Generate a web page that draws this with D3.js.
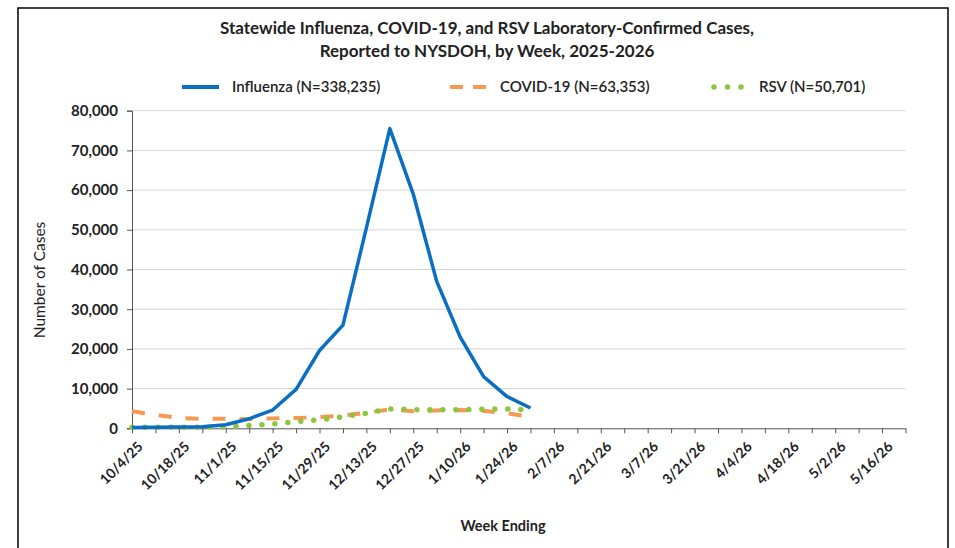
<!DOCTYPE html>
<html>
<head>
<meta charset="utf-8">
<title>Statewide Influenza, COVID-19, and RSV</title>
<script src="https://d3js.org/d3.v7.min.js"></script>
<style>
  body { margin: 0; background: #fff; }
  text { font-family: Lato, "Open Sans", sans-serif; fill: #222; }
</style>
</head>
<body>
<div id="chart"></div>
<script>
// week ending categories
const weeks = ["10/4/25","10/11/25","10/18/25","10/25/25","11/1/25","11/8/25","11/15/25","11/22/25",
  "11/29/25","12/6/25","12/13/25","12/20/25","12/27/25","1/3/26","1/10/26","1/17/26","1/24/26","1/31/26",
  "2/7/26","2/14/26","2/21/26","2/28/26","3/7/26","3/14/26","3/21/26","3/28/26","4/4/26","4/11/26",
  "4/18/26","4/25/26","5/2/26","5/9/26","5/16/26","5/23/26"];

// weekly case counts
const influenza = [200, 250, 300, 400, 900, 2400, 4600, 9800, 19600, 26000, 50500, 75500, 59000, 37000, 23000, 13000, 8000, 5100];
const covid = [4300, 3400, 2600, 2400, 2400, 2300, 2500, 2600, 2800, 3200, 3900, 4800, 4300, 4500, 4600, 4400, 3800, 2900];
const rsv = [250, 250, 250, 300, 350, 700, 1100, 1700, 2100, 2900, 3800, 4900, 4700, 4700, 4700, 4800, 4900, 4600];

const yTicks = [0, 10000, 20000, 30000, 40000, 50000, 60000, 70000, 80000];

const seriesNames = ["Influenza (N=338,235)", "COVID-19 (N=63,353)", "RSV (N=50,701)"];

const W = 955, H = 548;
const svg = d3.select("#chart").append("svg")
    .attr("width", W).attr("height", H);

// outer frame
svg.append("rect")
    .attr("x", 18).attr("y", 8)
    .attr("width", 930).attr("height", 570)
    .attr("fill", "none").attr("stroke", "#000").attr("stroke-width", 1.5);

const x = d3.scalePoint().domain(weeks).range([132, 905.5]);
const y = d3.scaleLinear().domain([0, 80000]).range([428.3, 110.7]);

// gridlines
svg.append("g").selectAll("line")
    .data(yTicks.slice(1))
    .enter().append("line")
    .attr("x1", 132).attr("x2", 905.5)
    .attr("y1", d => y(d)).attr("y2", d => y(d))
    .attr("stroke", "#d4d4d4").attr("stroke-width", 1);

// y axis
const yAxis = svg.append("g")
    .attr("transform", "translate(132,0)")
    .call(d3.axisLeft(y).tickValues(yTicks).tickSize(5).tickPadding(9).tickFormat(d3.format(",")));
yAxis.selectAll("text")
    .attr("font-size", "15px").attr("font-weight", "bold")
    .style("font-family", "Lato, sans-serif").attr("fill", "#222");
yAxis.selectAll("line, path").attr("stroke", "#555");

// x axis
const xAxis = svg.append("g")
    .attr("transform", "translate(0," + y(0) + ")")
    .call(d3.axisBottom(x).tickSize(5).tickSizeOuter(0)
        .tickFormat((d, i) => i % 2 === 0 ? d : ""));
xAxis.selectAll("line, path").attr("stroke", "#555");
xAxis.selectAll("text")
    .attr("font-size", "14px").attr("font-weight", "bold")
    .style("font-family", "Lato, sans-serif").attr("fill", "#222")
    .attr("text-anchor", "end")
    .attr("dy", "0.35em")
    .attr("transform", "translate(2,10) rotate(-45)");

const line = d3.line()
    .x((d, i) => x(weeks[i]))
    .y(d => y(d));

// series
svg.append("path").datum(covid)
    .attr("d", line).attr("fill", "none")
    .attr("stroke", "#f59a50").attr("stroke-width", 4)
    .attr("stroke-dasharray", "13,14");

svg.append("path").datum(rsv)
    .attr("d", line).attr("fill", "none")
    .attr("stroke", "#8cc63f").attr("stroke-width", 5.5)
    .attr("stroke-linecap", "round")
    .attr("stroke-dasharray", "0,13");

svg.append("path").datum(influenza)
    .attr("d", line).attr("fill", "none")
    .attr("stroke", "#0a6fc2").attr("stroke-width", 3.5)
    .attr("stroke-linejoin", "round");

// title
const title = svg.append("text")
    .attr("text-anchor", "middle")
    .attr("font-size", "17px").attr("font-weight", "bold");
title.append("tspan").attr("x", 487).attr("y", 34)
    .text("Statewide Influenza, COVID-19, and RSV Laboratory-Confirmed Cases,");
title.append("tspan").attr("x", 487).attr("y", 57)
    .text("Reported to NYSDOH, by Week, 2025-2026");

// legend
const ly = 87;
svg.append("line").attr("x1", 182).attr("x2", 219).attr("y1", ly).attr("y2", ly)
    .attr("stroke", "#0a6fc2").attr("stroke-width", 4);
svg.append("line").attr("x1", 450).attr("x2", 487).attr("y1", ly).attr("y2", ly)
    .attr("stroke", "#f59a50").attr("stroke-width", 4).attr("stroke-dasharray", "13,10");
svg.append("line").attr("x1", 714).attr("x2", 742).attr("y1", ly).attr("y2", ly)
    .attr("stroke", "#8cc63f").attr("stroke-width", 5.5)
    .attr("stroke-linecap", "round").attr("stroke-dasharray", "0,13.5");

const legendX = [232, 500, 759];
svg.append("g").selectAll("text")
    .data(seriesNames)
    .enter().append("text")
    .attr("x", (d, i) => legendX[i]).attr("y", ly + 5)
    .attr("font-size", "15px").attr("font-weight", "600")
    .text(d => d);

// axis titles
svg.append("text")
    .attr("transform", "translate(45,280) rotate(-90)")
    .attr("text-anchor", "middle")
    .attr("font-size", "15.5px")
    .text("Number of Cases");

svg.append("text")
    .attr("x", 503).attr("y", 531)
    .attr("text-anchor", "middle")
    .attr("font-size", "14.5px").attr("font-weight", "bold")
    .text("Week Ending");
</script>
</body>
</html>
